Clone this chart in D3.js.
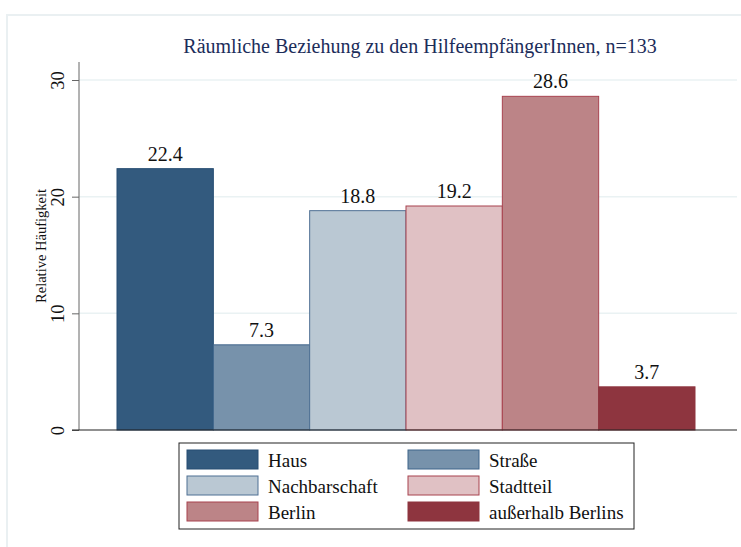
<!DOCTYPE HTML>
<html lang="de">
  <head>
     <meta charset="UTF-8">
     <title>Räumliche Beziehung</title>
     <style>
body { margin: 0; background: #fff; }
     </style>
  </head>
  <body>
   <div id="vis"></div>
     <script src="https://d3js.org/d3.v7.min.js"></script>
     <script>

const categories = ["Haus", "Straße", "Nachbarschaft", "Stadtteil", "Berlin", "außerhalb Berlins"];
const values = [22.4, 7.3, 18.8, 19.2, 28.6, 3.7];
const fills = ["#335a7e", "#7792ab", "#bac8d3", "#e0c1c4", "#bc8487", "#8e353f"];
const strokes = ["#264d72", "#3f658a", "#4f7194", "#a8434f", "#a8434f", "#8e353f"];
const yTicks = [0, 10, 20, 30];

const width = 741;
const height = 547;
const serif = "'Liberation Serif', 'Times New Roman', 'DejaVu Serif', serif";

let svg = d3.select("#vis").append("svg")
    .attr("width", width)
    .attr("height", height)
    .style("font-family", serif);

// outer graph region frame
svg.append("path")
  .attr("d", "M7," + height + " L7,15 L" + width + ",15")
  .attr("fill", "none")
  .attr("stroke", "#eaf0f2")
  .attr("stroke-width", 2);

let yScale = d3.scaleLinear()
  .domain([0, 30])
  .range([430, 80]);

let xScale = d3.scaleBand()
  .domain(categories)
  .range([117, 695])
  .padding(0);

// gridlines
svg.selectAll(".grid")
  .data(yTicks.filter(function(d){ return d > 0; }))
  .enter().append("line")
  .attr("x1", 79).attr("x2", 737)
  .attr("y1", function(d){ return yScale(d); })
  .attr("y2", function(d){ return yScale(d); })
  .attr("stroke", "#eaf2f3")
  .attr("stroke-width", 1.5);

// bars
svg.selectAll(".bar")
  .data(values)
  .enter().append("rect")
  .attr("x", function(d, i){ return xScale(categories[i]); })
  .attr("y", function(d){ return yScale(d); })
  .attr("width", xScale.bandwidth())
  .attr("height", function(d){ return yScale(0) - yScale(d); })
  .attr("fill", function(d, i){ return fills[i]; })
  .attr("stroke", function(d, i){ return strokes[i]; })
  .attr("stroke-width", 1);

// value labels
svg.selectAll(".val")
  .data(values)
  .enter().append("text")
  .attr("x", function(d, i){ return xScale(categories[i]) + xScale.bandwidth() / 2; })
  .attr("y", function(d){ return yScale(d) - 8; })
  .attr("text-anchor", "middle")
  .style("font-family", serif)
  .style("font-size", "20px")
  .attr("fill", "#111")
  .text(function(d){ return d.toFixed(1); });

// y axis
let yAxis = svg.append("g")
  .attr("transform", "translate(79,0)")
  .call(d3.axisLeft(yScale).tickValues(yTicks).tickSize(7).tickFormat(d3.format("d")));
yAxis.select(".domain").attr("stroke", "#666").attr("d", "M0,62V430");
yAxis.selectAll(".tick line").attr("stroke", "#666");
yAxis.selectAll(".tick text")
  .attr("transform", "rotate(-90)")
  .attr("x", 0)
  .attr("y", -15)
  .attr("dy", 0)
  .attr("text-anchor", "middle")
  .style("font-family", serif)
  .style("font-size", "18.5px")
  .attr("fill", "#111");

// x axis line
svg.append("line")
  .attr("x1", 72).attr("x2", 737)
  .attr("y1", yScale(0)).attr("y2", yScale(0))
  .attr("stroke", "#222")
  .attr("stroke-width", 1.2);

// axis title
svg.append("text")
  .attr("transform", "translate(46," + ((62 + 430) / 2) + ") rotate(-90)")
  .attr("text-anchor", "middle")
  .style("font-family", serif)
  .style("font-size", "14.5px")
  .attr("fill", "#111")
  .text("Relative Häufigkeit");

// title
svg.append("text")
  .attr("x", 420)
  .attr("y", 53)
  .attr("text-anchor", "middle")
  .style("font-family", serif)
  .style("font-size", "20px")
  .attr("fill", "#1c2d5a")
  .text("Räumliche Beziehung zu den HilfeempfängerInnen, n=133");

// legend
let legend = svg.append("g");
legend.append("rect")
  .attr("x", 179).attr("y", 443)
  .attr("width", 455).attr("height", 86)
  .attr("fill", "#fff")
  .attr("stroke", "#222")
  .attr("stroke-width", 1);

let items = legend.selectAll(".item")
  .data(categories)
  .enter().append("g")
  .attr("transform", function(d, i){
    let col = i % 2;
    let row = Math.floor(i / 2);
    return "translate(" + (187 + col * 221) + "," + (450 + row * 26) + ")";
  });
items.append("rect")
  .attr("width", 71).attr("height", 19)
  .attr("fill", function(d, i){ return fills[i]; })
  .attr("stroke", function(d, i){ return strokes[i]; })
  .attr("stroke-width", 1);
items.append("text")
  .attr("x", 81)
  .attr("y", 16.5)
  .style("font-family", serif)
  .style("font-size", "19px")
  .attr("fill", "#111")
  .text(function(d){ return d; });

     </script>
  </body>
</html>
